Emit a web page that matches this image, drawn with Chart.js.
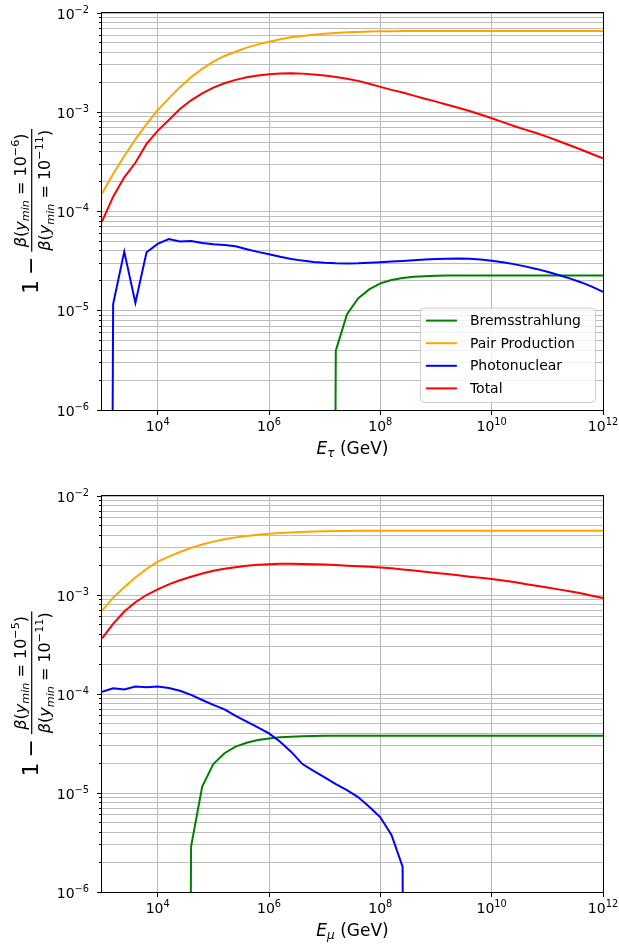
<!DOCTYPE html>
<html>
<head>
<meta charset="utf-8">
<title>Fractional change of energy-loss coefficients</title>
<script src="https://cdn.jsdelivr.net/npm/chart.js@4.4.1/dist/chart.umd.min.js"></script>
<style>
  html, body { margin: 0; padding: 0; background: #ffffff; }
  #wrap { position: relative; width: 619px; height: 944px; }
  .panel { position: absolute; left: 0; width: 619px; height: 472px; }
</style>
</head>
<body>
<div id="wrap">
  <div class="panel" style="top:0px"><canvas id="tauChart" width="619" height="472"></canvas></div>
  <div class="panel" style="top:472px"><canvas id="muChart" width="619" height="472"></canvas></div>
</div>
<script>
// ---- energy grid: log10(E / GeV) ----
const logEnergy = [3.0, 3.2, 3.4, 3.6, 3.8, 4.0, 4.2, 4.4, 4.6, 4.8,
                   5.0, 5.2, 5.4, 5.6, 5.8, 6.0, 6.2, 6.4, 6.6, 6.8,
                   7.0, 7.2, 7.4, 7.6, 7.8, 8.0, 8.2, 8.4, 8.6, 8.8,
                   9.0, 9.2, 9.4, 9.6, 9.8, 10.0, 10.2, 10.4, 10.6, 10.8,
                   11.0, 11.2, 11.4, 11.6, 11.8, 12.0];

// ---- tau: 1 - beta(ymin=1e-6)/beta(ymin=1e-11)  (0 = non-positive result) ----
const tauBrems = [0, 0, 0, 0, 0, 0, 0, 0, 0, 0,
                  0, 0, 0, 0, 0, 0, 0, 0, 0, 0,
                  0, 3.96e-6, 9.2e-6, 1.33e-5, 1.64e-5, 1.89e-5, 2.04e-5, 2.14e-5, 2.2e-5, 2.23e-5,
                  2.25e-5, 2.26e-5, 2.26e-5, 2.27e-5, 2.27e-5, 2.27e-5, 2.27e-5, 2.27e-5, 2.27e-5, 2.27e-5,
                  2.27e-5, 2.27e-5, 2.27e-5, 2.27e-5, 2.27e-5, 2.27e-5];
const tauPair = [1.52e-4, 2.39e-4, 3.62e-4, 5.34e-4, 7.61e-4, 1.05e-3, 1.38e-3, 1.79e-3, 2.25e-3, 2.74e-3,
                 3.23e-3, 3.69e-3, 4.07e-3, 4.48e-3, 4.83e-3, 5.14e-3, 5.43e-3, 5.69e-3, 5.87e-3, 6.05e-3,
                 6.18e-3, 6.3e-3, 6.38e-3, 6.45e-3, 6.5e-3, 6.53e-3, 6.56e-3, 6.58e-3, 6.59e-3, 6.6e-3,
                 6.6e-3, 6.6e-3, 6.6e-3, 6.6e-3, 6.6e-3, 6.6e-3, 6.6e-3, 6.6e-3, 6.6e-3, 6.6e-3,
                 6.6e-3, 6.6e-3, 6.6e-3, 6.6e-3, 6.6e-3, 6.6e-3];
const tauPhoto = [0, 1.17e-5, 3.94e-5, 1.2e-5, 3.88e-5, 4.71e-5, 5.28e-5, 5.0e-5, 5.03e-5, 4.82e-5,
                  4.67e-5, 4.6e-5, 4.46e-5, 4.17e-5, 3.92e-5, 3.71e-5, 3.5e-5, 3.33e-5, 3.2e-5, 3.1e-5,
                  3.04e-5, 3.01e-5, 3.0e-5, 3.01e-5, 3.04e-5, 3.08e-5, 3.13e-5, 3.18e-5, 3.23e-5, 3.28e-5,
                  3.32e-5, 3.35e-5, 3.36e-5, 3.34e-5, 3.28e-5, 3.19e-5, 3.08e-5, 2.95e-5, 2.8e-5, 2.64e-5,
                  2.47e-5, 2.29e-5, 2.12e-5, 1.94e-5, 1.75e-5, 1.55e-5];
const tauTotal = [7.9e-5, 1.41e-4, 2.21e-4, 3.1e-4, 4.8e-4, 6.5e-4, 8.35e-4, 1.08e-3, 1.32e-3, 1.55e-3,
                  1.77e-3, 1.96e-3, 2.12e-3, 2.25e-3, 2.35e-3, 2.42e-3, 2.46e-3, 2.47e-3, 2.45e-3, 2.4e-3,
                  2.35e-3, 2.27e-3, 2.18e-3, 2.07e-3, 1.94e-3, 1.8e-3, 1.68e-3, 1.58e-3, 1.47e-3, 1.37e-3,
                  1.28e-3, 1.19e-3, 1.11e-3, 1.03e-3, 9.5e-4, 8.7e-4, 7.96e-4, 7.28e-4, 6.68e-4, 6.17e-4,
                  5.65e-4, 5.13e-4, 4.65e-4, 4.21e-4, 3.8e-4, 3.44e-4];

// ---- muon: 1 - beta(ymin=1e-5)/beta(ymin=1e-11) ----
const muBrems = [0, 0, 0, 0, 0, 0, 0, 0, 2.87e-6, 1.16e-5,
                 1.96e-5, 2.52e-5, 2.94e-5, 3.22e-5, 3.43e-5, 3.56e-5, 3.65e-5, 3.71e-5, 3.75e-5, 3.77e-5,
                 3.78e-5, 3.79e-5, 3.79e-5, 3.79e-5, 3.79e-5, 3.79e-5, 3.79e-5, 3.79e-5, 3.79e-5, 3.79e-5,
                 3.79e-5, 3.79e-5, 3.79e-5, 3.79e-5, 3.79e-5, 3.79e-5, 3.79e-5, 3.79e-5, 3.79e-5, 3.79e-5,
                 3.79e-5, 3.79e-5, 3.79e-5, 3.79e-5, 3.79e-5, 3.79e-5];
const muPair = [6.94e-4, 9.4e-4, 1.2e-3, 1.5e-3, 1.83e-3, 2.17e-3, 2.44e-3, 2.72e-3, 2.99e-3, 3.24e-3,
                3.46e-3, 3.65e-3, 3.82e-3, 3.95e-3, 4.06e-3, 4.15e-3, 4.23e-3, 4.29e-3, 4.33e-3, 4.37e-3,
                4.4e-3, 4.42e-3, 4.44e-3, 4.45e-3, 4.46e-3, 4.46e-3, 4.46e-3, 4.46e-3, 4.46e-3, 4.46e-3,
                4.46e-3, 4.46e-3, 4.46e-3, 4.46e-3, 4.46e-3, 4.46e-3, 4.46e-3, 4.46e-3, 4.46e-3, 4.46e-3,
                4.46e-3, 4.46e-3, 4.46e-3, 4.46e-3, 4.46e-3, 4.46e-3];
const muPhoto = [1.05e-4, 1.14e-4, 1.11e-4, 1.19e-4, 1.17e-4, 1.19e-4, 1.15e-4, 1.08e-4, 9.8e-5, 8.7e-5,
                 7.76e-5, 7.0e-5, 6.0e-5, 5.25e-5, 4.6e-5, 4.0e-5, 3.3e-5, 2.6e-5, 1.96e-5, 1.67e-5,
                 1.44e-5, 1.23e-5, 1.07e-5, 9.1e-6, 7.27e-6, 5.68e-6, 3.77e-6, 1.8e-6, 0, 0,
                 0, 0, 0, 0, 0, 0, 0, 0, 0, 0,
                 0, 0, 0, 0, 0, 0];
const muTotal = [3.65e-4, 5.1e-4, 6.8e-4, 8.45e-4, 1.0e-3, 1.14e-3, 1.28e-3, 1.41e-3, 1.53e-3, 1.65e-3,
                 1.76e-3, 1.84e-3, 1.91e-3, 1.97e-3, 2.02e-3, 2.05e-3, 2.07e-3, 2.07e-3, 2.06e-3, 2.05e-3,
                 2.03e-3, 2.01e-3, 1.98e-3, 1.95e-3, 1.93e-3, 1.9e-3, 1.86e-3, 1.81e-3, 1.77e-3, 1.72e-3,
                 1.67e-3, 1.63e-3, 1.58e-3, 1.53e-3, 1.49e-3, 1.45e-3, 1.4e-3, 1.35e-3, 1.29e-3, 1.24e-3,
                 1.19e-3, 1.14e-3, 1.09e-3, 1.04e-3, 9.84e-4, 9.33e-4];

// ---- axes: decade ticks, labelled as base + exponent ----
const xTickValues = [1e4, 1e6, 1e8, 1e10, 1e12];
const xTickExponents = ['4', '6', '8', '10', '12'];
const yTickValues = [1e-6, 1e-5, 1e-4, 1e-3, 1e-2];
const yTickExponents = ['\u22126', '\u22125', '\u22124', '\u22123', '\u22122'];
const seriesNames = ['Bremsstrahlung', 'Pair Production', 'Photonuclear', 'Total'];
const seriesColors = ['#008000', '#ffa500', '#0000ff', '#ff0000'];

const FONT = "'DejaVu Sans', 'Liberation Sans', sans-serif";
// log axes cannot show non-positive values; they are pushed far below the frame
const LOG_FLOOR = 1e-30;

function points(values) {
  return values.map((v, i) => ({ x: Math.pow(10, logEnergy[i]), y: v > 0 ? v : LOG_FLOOR }));
}

function yTicks() {
  const out = [];
  for (let d = 0; d < yTickValues.length; d++) {
    out.push({ value: yTickValues[d], exp: yTickExponents[d], major: true });
    if (d < yTickValues.length - 1) {
      for (let m = 2; m <= 9; m++) out.push({ value: yTickValues[d] * m, exp: null, major: false });
    }
  }
  return out;
}

// ---- small mathtext-like run renderer ----
function runFont(r) { return (r.italic ? 'italic ' : '') + r.size + 'px ' + FONT; }
function runsWidth(ctx, runs) {
  let w = 0;
  for (const r of runs) { ctx.font = runFont(r); w += ctx.measureText(r.text).width + (r.gap || 0); }
  return w;
}
function drawRuns(ctx, runs, x, y) {
  ctx.textAlign = 'left';
  ctx.textBaseline = 'alphabetic';
  let cx = x;
  for (const r of runs) {
    ctx.font = runFont(r);
    ctx.fillText(r.text, cx, y + (r.dy || 0));
    cx += ctx.measureText(r.text).width + (r.gap || 0);
  }
}
function powerRuns(exp) {
  return [{ text: '10', size: 14 }, { text: exp, size: 9.8, dy: -6 }];
}
function betaRuns(exp, s) {
  const ss = Math.round(s * 0.7 * 10) / 10;
  return [
    { text: '\u03b2', size: s, italic: true },
    { text: '(', size: s },
    { text: 'y', size: s, italic: true },
    { text: 'min', size: ss, italic: true, dy: s * 0.22 },
    { text: ' = ', size: s },
    { text: '10', size: s },
    { text: '\u2212' + exp, size: ss, dy: -s * 0.42 },
    { text: ')', size: s }
  ];
}

const decorPlugin = {
  id: 'decor',
  afterDraw(chart, args, opts) {
    const ctx = chart.ctx;
    const ca = chart.chartArea;
    const xs = chart.scales.x, ys = chart.scales.y;
    ctx.save();
    ctx.strokeStyle = '#000';
    ctx.lineWidth = 1;
    // tick marks
    ctx.beginPath();
    for (const t of ys.ticks) {
      const py = Math.round(ys.getPixelForValue(t.value) - 0.5) + 0.5;
      const len = t.major ? 5 : 3;
      ctx.moveTo(ca.left - len, py); ctx.lineTo(ca.left, py);
    }
    for (const v of xTickValues) {
      const px = Math.round(xs.getPixelForValue(v) - 0.5) + 0.5;
      ctx.moveTo(px, ca.bottom); ctx.lineTo(px, ca.bottom + 5);
    }
    ctx.stroke();
    // frame
    ctx.strokeRect(Math.round(ca.left) - 0.5, Math.round(ca.top) - 0.5,
                   Math.round(ca.right - ca.left) + 1, Math.round(ca.bottom - ca.top) + 1);

    ctx.fillStyle = '#000';
    // tick labels
    for (const t of ys.ticks) {
      if (!t.major) continue;
      const runs = powerRuns(t.exp);
      const w = runsWidth(ctx, runs);
      drawRuns(ctx, runs, ca.left - 13 - w, ys.getPixelForValue(t.value) + 5.5);
    }
    xTickValues.forEach((v, i) => {
      const runs = powerRuns(xTickExponents[i]);
      const w = runsWidth(ctx, runs);
      drawRuns(ctx, runs, xs.getPixelForValue(v) - w / 2, ca.bottom + 21);
    });

    // x title
    const xRuns = [
      { text: 'E', size: 17, italic: true },
      { text: opts.particle, size: 12, italic: true, dy: 3.5 },
      { text: ' (GeV)', size: 17 }
    ];
    const xw = runsWidth(ctx, xRuns);
    drawRuns(ctx, xRuns, (ca.left + ca.right) / 2 - xw / 2, ca.bottom + 43.5);

    // y title: 1 - num/den, rotated
    const cy = (ca.top + ca.bottom) / 2;
    ctx.save();
    ctx.translate(0, cy);
    ctx.rotate(-Math.PI / 2);
    const big = 22, fr = 16;
    const lead = [{ text: '1', size: big, gap: 5 }, { text: '\u2212', size: big, gap: 5 }];
    const num = betaRuns(opts.yminExp, fr);
    const den = betaRuns('11', fr);
    const wl = runsWidth(ctx, lead);
    const wn = runsWidth(ctx, num), wd = runsWidth(ctx, den);
    const barW = Math.max(wn, wd) + 2;
    const total = wl + barW;
    const u0 = -total / 2;
    drawRuns(ctx, lead, u0, 37.5);
    const ub = u0 + wl;
    ctx.lineWidth = 1.2;
    ctx.beginPath();
    ctx.moveTo(ub, 31.7); ctx.lineTo(ub + barW, 31.7);
    ctx.stroke();
    drawRuns(ctx, num, ub + (barW - wn) / 2, 25.5);
    drawRuns(ctx, den, ub + (barW - wd) / 2, 50);
    ctx.restore();

    // legend box
    if (opts.legend) {
      const pitch = 22.6;
      ctx.font = '14px ' + FONT;
      let maxW = 0;
      for (const n of seriesNames) maxW = Math.max(maxW, ctx.measureText(n).width);
      const w = 50 + maxW + 14, h = pitch * seriesNames.length + 4;
      const right = ca.right - 8, bottom = ca.bottom - 8;
      const left = right - w, top = bottom - h;
      ctx.beginPath();
      ctx.roundRect(left + 0.5, top + 0.5, w, h, 4);
      ctx.fillStyle = 'rgba(255,255,255,0.8)';
      ctx.fill();
      ctx.strokeStyle = '#cccccc';
      ctx.lineWidth = 1;
      ctx.stroke();
      seriesNames.forEach((n, i) => {
        const ry = top + 13 + i * pitch;
        ctx.strokeStyle = seriesColors[i];
        ctx.lineWidth = 2;
        ctx.beginPath();
        ctx.moveTo(left + 6, ry); ctx.lineTo(left + 37, ry);
        ctx.stroke();
        ctx.fillStyle = '#000';
        ctx.textAlign = 'left';
        ctx.textBaseline = 'middle';
        ctx.font = '14px ' + FONT;
        ctx.fillText(n, left + 50, ry + 1);
      });
    }
    ctx.restore();
  }
};

function makeChart(id, series, cfg) {
  const datasets = series.map((vals, i) => ({
    label: seriesNames[i],
    data: points(vals),
    borderColor: seriesColors[i],
    backgroundColor: seriesColors[i],
    borderWidth: 2,
    pointRadius: 0,
    tension: 0,
    fill: false,
    clip: 0,
    order: series.length - i
  }));
  return new Chart(document.getElementById(id), {
    type: 'line',
    data: { datasets },
    options: {
      responsive: false,
      animation: false,
      devicePixelRatio: 1,
      layout: { padding: { top: cfg.top, right: 16, left: 0, bottom: 0 } },
      plugins: {
        legend: { display: false },
        tooltip: { enabled: false },
        decor: { particle: cfg.particle, yminExp: cfg.yminExp, legend: cfg.legend }
      },
      scales: {
        x: {
          type: 'logarithmic',
          position: 'bottom',
          min: 1e3,
          max: 1e12,
          afterBuildTicks: s => { s.ticks = xTickValues.map(v => ({ value: v, major: true })); },
          afterFit: s => {
            s.height = cfg.xAxisHeight;
            s.paddingLeft = 0; s.paddingRight = 0; s.paddingTop = 0; s.paddingBottom = 0;
          },
          grid: { color: '#b8b8b8', lineWidth: 1, drawTicks: false },
          border: { display: false },
          ticks: { display: false, autoSkip: false, maxRotation: 0, minRotation: 0 }
        },
        y: {
          type: 'logarithmic',
          position: 'left',
          min: 1e-6,
          max: 1e-2,
          afterBuildTicks: s => { s.ticks = yTicks(); },
          afterFit: s => {
            s.width = 102;
            s.paddingLeft = 0; s.paddingRight = 0; s.paddingTop = 0; s.paddingBottom = 0;
          },
          grid: { color: '#bcbcbc', lineWidth: 1, drawTicks: false },
          border: { display: false },
          ticks: { display: false, autoSkip: false }
        }
      }
    },
    plugins: [decorPlugin]
  });
}

makeChart('tauChart', [tauBrems, tauPair, tauPhoto, tauTotal],
          { top: 13, xAxisHeight: 62, particle: '\u03c4', yminExp: '6', legend: true });
makeChart('muChart', [muBrems, muPair, muPhoto, muTotal],
          { top: 24, xAxisHeight: 52, particle: '\u03bc', yminExp: '5', legend: false });
</script>
</body>
</html>
